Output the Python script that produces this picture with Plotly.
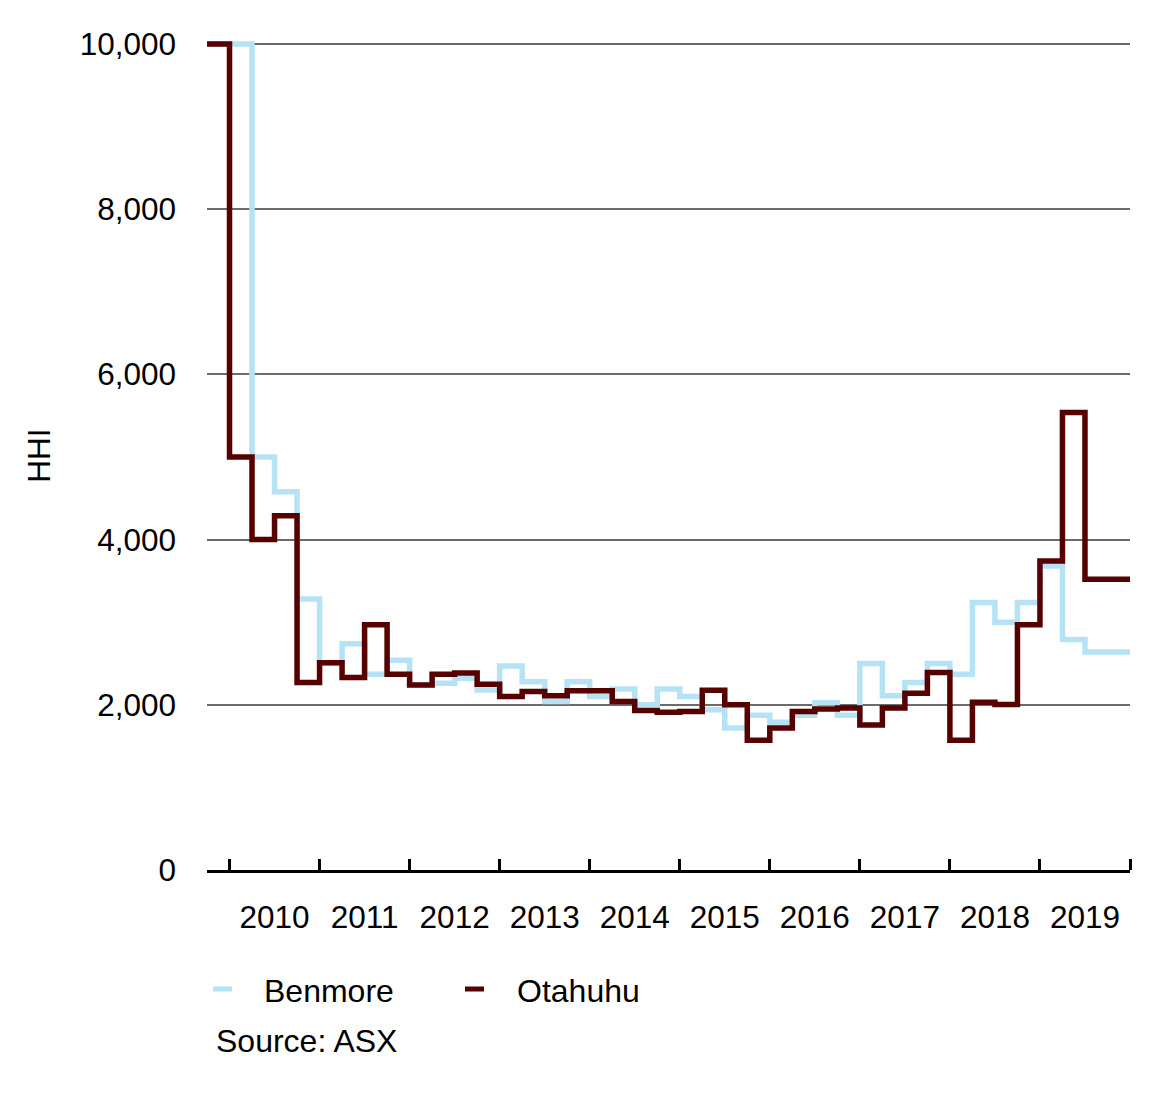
import plotly.graph_objects as go

# Quarterly data, 2009 Q4 to 2019 Q4
quarters = ["2009Q4"] + [f"{y}Q{q}" for y in range(2010, 2020) for q in range(1, 5)]

otahuhu = [10000, 5000, 4000, 4290, 2270, 2510, 2330, 2970, 2370, 2240,
           2370, 2385, 2250, 2100, 2160, 2110, 2170, 2170, 2040, 1930,
           1910, 1920, 2175, 2000, 1570, 1720, 1920, 1950, 1960, 1755,
           1960, 2140, 2390, 1570, 2030, 2005, 2970, 3740, 5540, 3520,
           3520]

benmore = [10000, 10000, 5000, 4580, 3280, 2500, 2740, 2370, 2540, 2240,
           2260, 2320, 2180, 2470, 2280, 2040, 2280, 2100, 2190, 2000,
           2190, 2100, 1940, 1720, 1875, 1790, 1875, 2025, 1875, 2500,
           2110, 2270, 2500, 2370, 3240, 3000, 3240, 3680, 2790, 2640,
           2640]

years = list(range(2010, 2020))
year_labels = [str(y) for y in years]
y_ticks = [0, 2000, 4000, 6000, 8000, 10000]
y_tick_labels = ["0", "2,000", "4,000", "6,000", "8,000", "10,000"]


def q_start(q):
    y, n = q.split("Q")
    return int(y) + (int(n) - 1) / 4.0


x_start = [q_start(q) for q in quarters]
x_steps = x_start + [x_start[-1] + 0.25]

DARK = "#570000"
LIGHT = "#b6e2f6"
FONT = "Arial, Liberation Sans, sans-serif"

# page offset of the figure inside the browser (body margin)
OFF = 8
W, H = 1160, 1096
PX0, PX1 = 207, 1130      # plot area in screen pixels
PY_TOP, PY0 = 41, 870
L = PX0 - OFF
PW = PX1 - PX0
R = W - L - PW
T = PY_TOP - OFF
PH = PY0 - PY_TOP
B = H - T - PH
ytop = 10000 * PH / 826.0

fig = go.Figure()
fig.add_trace(go.Scatter(x=x_steps, y=benmore + [benmore[-1]], mode="lines",
                         line=dict(color=LIGHT, width=5.5, shape="hv"),
                         name="Benmore", showlegend=False))
fig.add_trace(go.Scatter(x=x_steps, y=otahuhu + [otahuhu[-1]], mode="lines",
                         line=dict(color=DARK, width=5.5, shape="hv"),
                         name="Otahuhu", showlegend=False))


def px_x(px):
    return (px - PX0) / PW


def px_y(py):
    return (PY0 - py) / PH


shapes = [
    dict(type="line", xref="paper", yref="paper", x0=px_x(213), x1=px_x(232),
         y0=px_y(989), y1=px_y(989), line=dict(color=LIGHT, width=5)),
    dict(type="line", xref="paper", yref="paper", x0=px_x(465), x1=px_x(484),
         y0=px_y(989), y1=px_y(989), line=dict(color=DARK, width=5)),
]
annotations = [
    dict(text="Benmore", xref="paper", yref="paper", x=px_x(262), y=px_y(991),
         xanchor="left", yanchor="middle", showarrow=False,
         font=dict(family=FONT, size=32, color="black")),
    dict(text="Otahuhu", xref="paper", yref="paper", x=px_x(515), y=px_y(991),
         xanchor="left", yanchor="middle", showarrow=False,
         font=dict(family=FONT, size=32, color="black")),
    dict(text="Source: ASX", xref="paper", yref="paper", x=px_x(214), y=px_y(1041),
         xanchor="left", yanchor="middle", showarrow=False,
         font=dict(family=FONT, size=32, color="black")),
]

fig.update_layout(
    width=W, height=H,
    margin=dict(l=L, r=R, t=T, b=B, pad=0),
    paper_bgcolor="white", plot_bgcolor="white",
    font=dict(family=FONT, size=31.5, color="black"),
    shapes=shapes, annotations=annotations,
    xaxis=dict(
        range=[2009.75, 2020.0],
        tickvals=[y + 0.5 for y in years], ticktext=year_labels,
        ticks="", showgrid=False, zeroline=False,
        showline=True, linecolor="black", linewidth=3,
        tickfont=dict(family=FONT, size=31.5, color="black"),
        ticklabelstandoff=17,
        minor=dict(tickvals=years + [2020], ticks="inside", ticklen=11,
                   tickwidth=3, tickcolor="black", showgrid=False),
    ),
    yaxis=dict(
        range=[0, ytop],
        tickvals=y_ticks, ticktext=y_tick_labels,
        ticks="", showgrid=True, gridcolor="#6b6b6b", gridwidth=1.5,
        zeroline=False, showline=False,
        tickfont=dict(family=FONT, size=31.5, color="black"),
        ticklabelstandoff=30,
        title=dict(text="HHI", standoff=19,
                   font=dict(family=FONT, size=31.5, color="black")),
    ),
)

fig.write_html("out.html")
